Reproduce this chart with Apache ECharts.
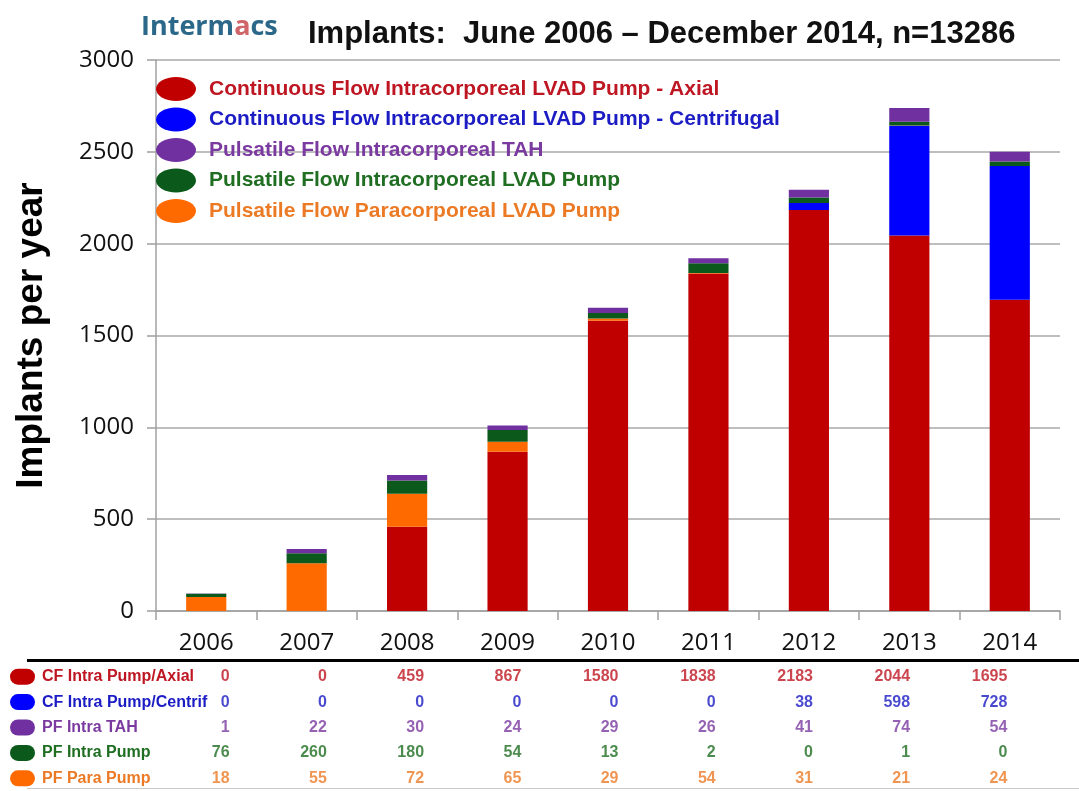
<!DOCTYPE html>
<html lang="en">

<head>
    <meta charset="UTF-8">
    <title>Intermacs Implants 2006-2014</title>
    <script src="https://cdn.jsdelivr.net/npm/echarts@6/dist/echarts.min.js"></script>
    <style>
        body { margin: 0; background: #fff; }
    </style>
</head>

<body>
    <div id="main" style="width: 1079px; height: 791px;"></div>
    <script>
        // table values (rows as printed under the chart)
        var years = ['2006', '2007', '2008', '2009', '2010', '2011', '2012', '2013', '2014'];
        var cfAxial = [0, 0, 459, 867, 1580, 1838, 2183, 2044, 1695];
        var cfCentrif = [0, 0, 0, 0, 0, 0, 38, 598, 728];
        var pfTah = [1, 22, 30, 24, 29, 26, 41, 74, 54];
        var pfIntraPump = [76, 260, 180, 54, 13, 2, 0, 1, 0];
        var pfParaPump = [18, 55, 72, 65, 29, 54, 31, 21, 24];

        var rowNames = ['CF Intra Pump/Axial', 'CF Intra Pump/Centrif', 'PF Intra TAH', 'PF Intra Pump', 'PF Para Pump'];
        var yTicks = [0, 500, 1000, 1500, 2000, 2500, 3000];

        var cRed = '#c00000', cBlue = '#0000ff', cPurple = '#7030a0', cGreen = '#0b5a1c', cOrange = '#ff6a00';
        var tRed = '#be1622', tBlue = '#1c1cc4', tPurple = '#7b3aa0', tGreen = '#1f6e22', tOrange = '#ec7a25';
        // ellipse already in a 40x24 box, so keeping the aspect still fills the icon
        var ellipse = 'path://M0,12A20,12,0,1,1,40,12A20,12,0,1,1,0,12Z';

        var myChart = echarts.init(document.getElementById('main'));

        function barSeries(name, data, color) {
            return {
                name: name,
                type: 'bar',
                stack: 'total',
                barWidth: '40%',
                data: data,
                itemStyle: { color: color },
                silent: true
            };
        }

        var rows = [cfAxial, cfCentrif, pfTah, pfIntraPump, pfParaPump];
        var rowColors = [tRed, tBlue, tPurple, tGreen, tOrange];
        var iconColors = [cRed, cBlue, cPurple, cGreen, cOrange];

        var tableSeries = rows.map(function (row, r) {
            return {
                type: 'scatter',
                xAxisIndex: 1,
                yAxisIndex: 1,
                symbolSize: 2,
                itemStyle: { color: 'rgba(0,0,0,0)' },
                silent: true,
                data: row.map(function (v, i) { return [i, r, v]; }),
                label: {
                    show: true,
                    position: 'inside',
                    align: 'right',
                    offset: [10, 0],
                    formatter: function (p) { return String(p.value[2]); },
                    color: rowColors[r],
                    fontFamily: 'Liberation Sans',
                    fontWeight: 'bold',
                    fontSize: 16
                }
            };
        });

        var rich = {};
        rowNames.forEach(function (n, i) {
            rich['i' + i] = { width: 25, height: 16, borderRadius: 8, backgroundColor: iconColors[i] };
            rich['t' + i] = { color: rowColors[i], fontFamily: 'Liberation Sans', fontWeight: 'bold', fontSize: 16, padding: [0, 0, 0, 7] };
        });

        var legendNames = [
            'Continuous Flow Intracorporeal LVAD Pump - Axial',
            'Continuous Flow Intracorporeal LVAD Pump - Centrifugal',
            'Pulsatile Flow Intracorporeal TAH',
            'Pulsatile Flow Intracorporeal LVAD Pump',
            'Pulsatile Flow Paracorporeal LVAD Pump'
        ];

        var option = {
            animation: false,
            textStyle: { fontFamily: 'Liberation Sans' },
            title: [{
                text: 'Implants:  June 2006 \u2013 December 2014, n=13286',
                left: 303,
                top: 14,
                textStyle: { fontFamily: 'Liberation Sans', fontWeight: 'bold', fontSize: 31, color: '#111' }
            }, {
                text: '{a|Interm}{b|a}{a|cs}',
                left: 136,
                top: 9,
                textStyle: {
                    rich: {
                        a: { fontFamily: 'Open Sans', fontSize: 27, color: '#2a6788' },
                        b: { fontFamily: 'Open Sans', fontSize: 27, color: '#d0656a' }
                    }
                }
            }],
            legend: {
                orient: 'vertical',
                left: 151,
                top: 72,
                itemWidth: 40,
                itemHeight: 24,
                itemGap: 6.5,
                icon: ellipse,
                selectedMode: false,
                textStyle: { fontFamily: 'Liberation Sans', fontWeight: 'bold', fontSize: 21, padding: [0, 0, 0, 8] },
                data: [
                    { name: legendNames[0], textStyle: { color: tRed } },
                    { name: legendNames[1], textStyle: { color: tBlue } },
                    { name: legendNames[2], textStyle: { color: tPurple } },
                    { name: legendNames[3], textStyle: { color: tGreen } },
                    { name: legendNames[4], textStyle: { color: tOrange } }
                ]
            },
            grid: [
                { left: 156, right: 19, top: 60, bottom: 180 },
                // the printed table columns sit a bit tighter than the bars
                { left: 171, right: 33, top: 664, height: 127 }
            ],
            xAxis: [{
                type: 'category',
                data: years,
                gridIndex: 0,
                axisLine: { lineStyle: { color: '#a0a0a0', width: 1.5 } },
                axisTick: { show: true, length: 9, lineStyle: { color: '#a0a0a0', width: 1.5 } },
                axisLabel: { fontFamily: 'Open Sans', fontSize: 24, color: '#111', margin: 20 }
            }, {
                type: 'category',
                data: years,
                gridIndex: 1,
                show: false
            }],
            yAxis: [{
                type: 'value',
                gridIndex: 0,
                min: 0,
                max: 3000,
                interval: 500,
                name: 'Implants per year',
                nameLocation: 'middle',
                nameGap: 106,
                nameTextStyle: { fontFamily: 'Liberation Sans', fontWeight: 'bold', fontSize: 37, color: '#000' },
                axisLine: { show: true, lineStyle: { color: '#a0a0a0', width: 1.5 } },
                axisTick: { show: true, length: 9, lineStyle: { color: '#a0a0a0', width: 1.5 } },
                splitLine: { lineStyle: { color: '#a8a8a8', width: 1.5 } },
                axisLabel: {
                    fontFamily: 'Open Sans', fontSize: 24, color: '#111', margin: 22,
                    formatter: function (v) { return yTicks.indexOf(v) >= 0 ? String(v) : ''; }
                }
            }, {
                type: 'category',
                data: rowNames,
                gridIndex: 1,
                inverse: true,
                axisLine: { show: false },
                axisTick: { show: false },
                splitLine: { show: false },
                axisLabel: {
                    align: 'left',
                    margin: 161,
                    formatter: function (v, i) { return '{i' + i + '|}{t' + i + '|' + v + '}'; },
                    rich: rich
                }
            }],
            graphic: [{
                type: 'rect',
                shape: { x: 27, y: 659, width: 1052, height: 3 },
                style: { fill: '#000' },
                silent: true
            }, {
                type: 'rect',
                shape: { x: 27, y: 788, width: 1052, height: 1 },
                style: { fill: '#c8c8c8' },
                silent: true
            }],
            series: [
                barSeries(legendNames[0], cfAxial, cRed),
                barSeries(legendNames[1], cfCentrif, cBlue),
                // as drawn in the source chart: orange segment holds the "PF Intra Pump" counts
                barSeries(legendNames[4], pfIntraPump, cOrange),
                barSeries(legendNames[3], pfParaPump, cGreen),
                barSeries(legendNames[2], pfTah, cPurple)
            ].concat(tableSeries)
        };

        myChart.setOption(option);
    </script>
</body>

</html>
